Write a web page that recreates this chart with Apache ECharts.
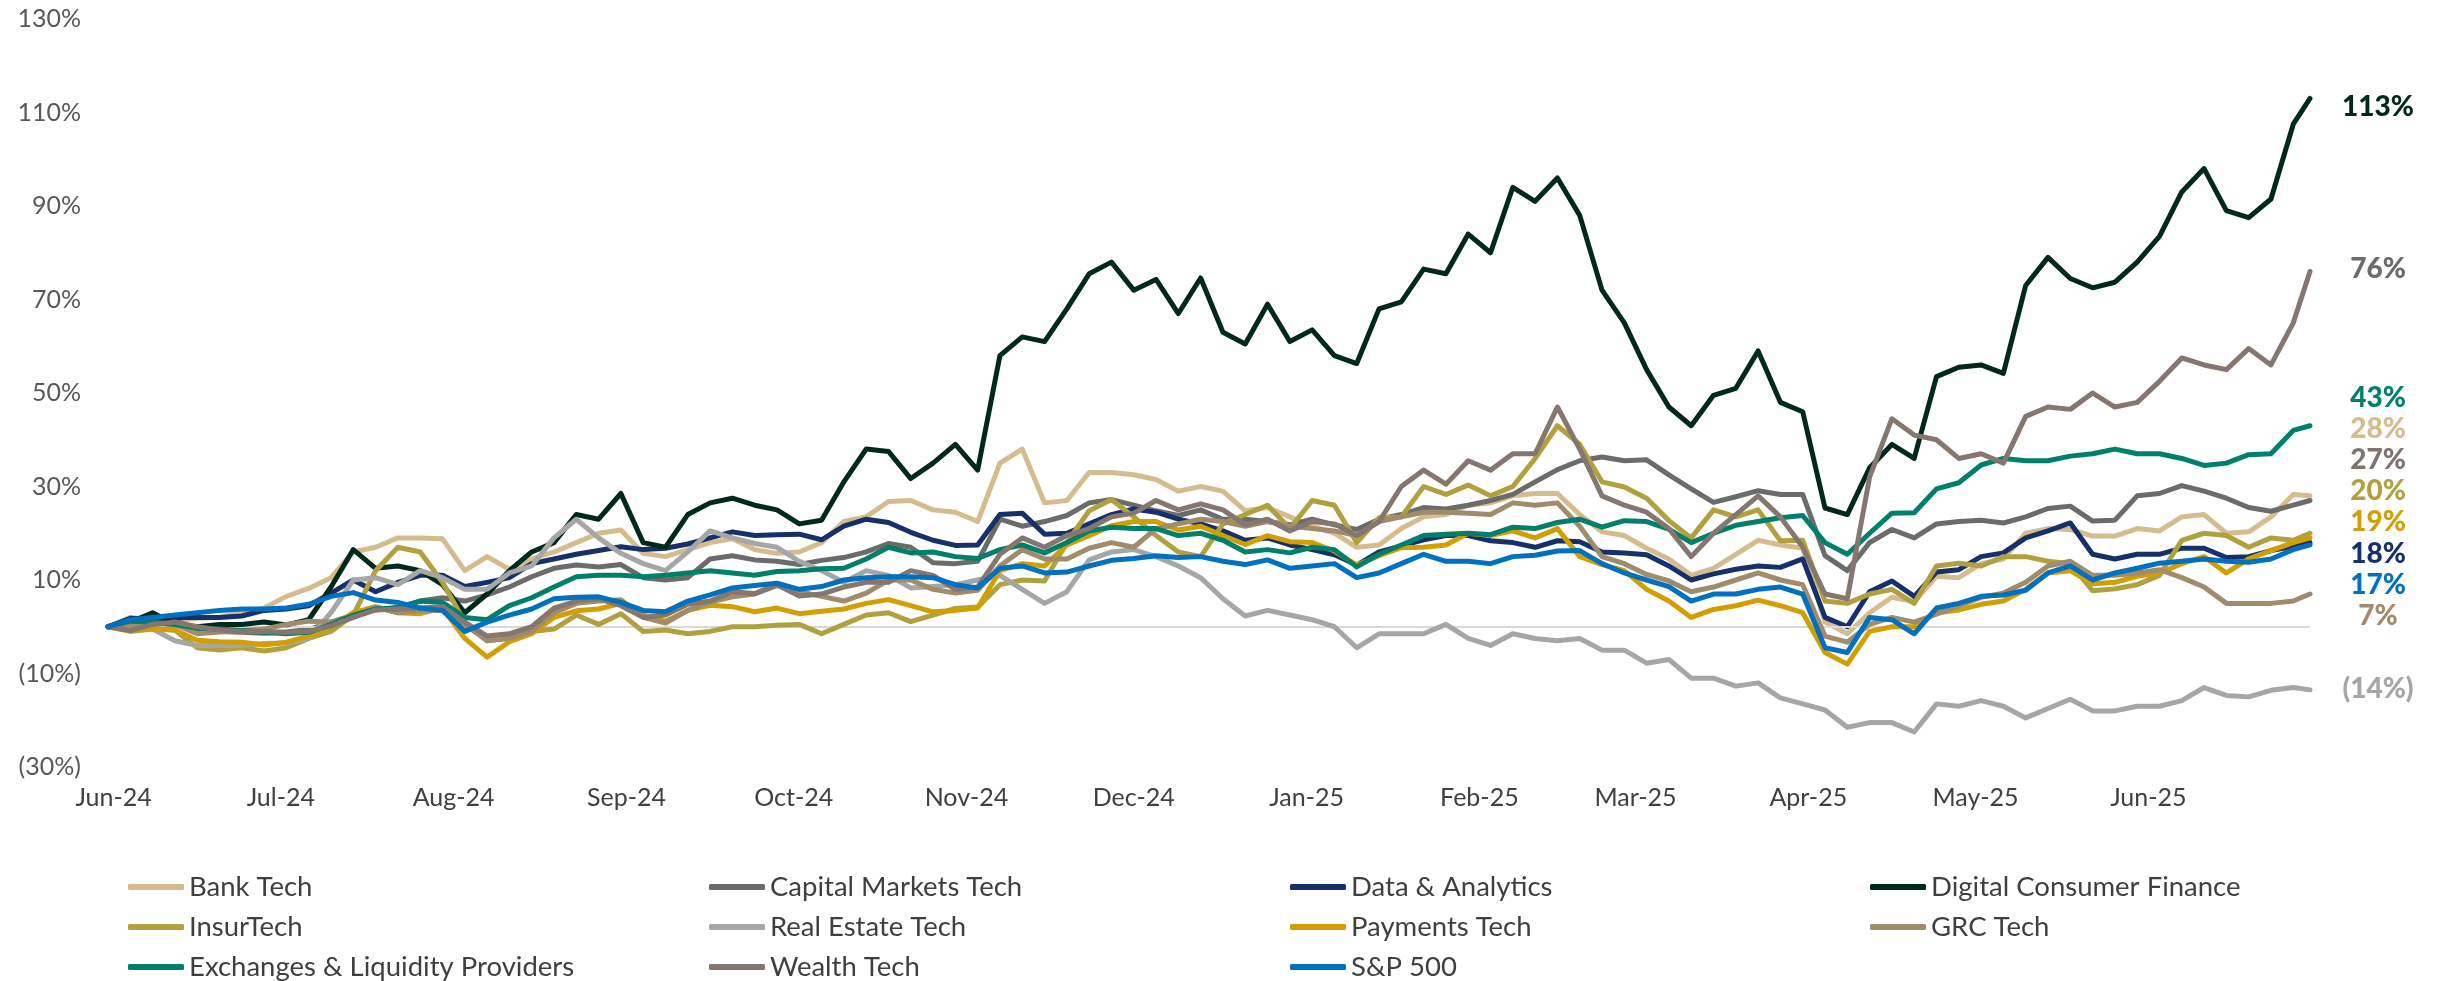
<!DOCTYPE html>
<html>
<head>
<meta charset="utf-8">
<script src="https://cdn.jsdelivr.net/npm/echarts@6/dist/echarts.min.js"></script>
<style>
html,body{margin:0;padding:0;background:#fff;}
#chart{width:2438px;height:981px;}
</style>
</head>
<body>
<div id="chart"></div>
<script>
// ---- DATA ----
// x = calendar days since 31-May-2024 (sampled every 4 days, last point 30-Jun-2025)
const dayOffsets = [];
for (let d = 0; d <= 392; d += 4) dayOffsets.push(d);
dayOffsets.push(395);

// month tick positions (days since 31-May-2024) and their labels
const monthTicks = [1, 31, 62, 93, 123, 154, 184, 215, 246, 274, 305, 335, 366];
const monthLabels = ['Jun-24','Jul-24','Aug-24','Sep-24','Oct-24','Nov-24','Dec-24','Jan-25','Feb-25','Mar-25','Apr-25','May-25','Jun-25'];

const seriesNames = ['Bank Tech','Capital Markets Tech','Data & Analytics','Digital Consumer Finance','InsurTech','Real Estate Tech','Payments Tech','GRC Tech','Exchanges & Liquidity Providers','Wealth Tech','S&P 500'];

const bankTech = [0,2,1.5,1.2,1.8,2,3,4,6.5,8.2, 10.5,16,17,19,19,18.8,12,15,12.3,14.5, 16,18,20,20.7,15.7,15,16.5,18,18.8,16.5, 15.7,16,18,22.5,23.5,26.8,27,25,24.5,22.5, 35,38,26.5,27,33,33,32.5,31.5,29,30, 29,24.8,25.5,23.5,21.5,20,17,17.5,21,23.5, 24,26,26.5,28,28.5,28.5,24,20.3,19.5,16.8, 14.5,11,12.5,15.5,18.5,17.5,16.8,1,-1.5,3, 6.3,5.4,10.8,10.5,13.5,14.5,20,21,20.8,19.4, 19.4,21,20.5,23.5,24,20,20.3,23.5,28.3,28];
const capitalMarketsTech = [0,1.2,1.3,1.4,-0.5,-1,-1.2,-1.4,-1.1,-0.6, 1,2.5,3.6,4.2,5.5,6.2,5.5,6.8,8.5,10.7, 12.5,13.2,12.8,13.3,10.5,10,10.5,14.5,15.2,14.3, 14,13.3,14.2,14.8,16,17.8,17,13.7,13.5,14, 23,21.5,22.5,23.8,26.5,27.2,26,24.8,23.8,25, 23,23,22.5,21.8,23,21.8,20.8,23,24,25.5, 25.2,26,27,28.3,31,33.6,35.5,36.3,35.5,35.7, 32.5,29.5,26.6,27.8,29.1,28.3,28.3,15.2,12,18, 20.8,19,22,22.5,22.8,22.2,23.5,25.3,25.8,22.6, 22.8,28,28.5,30.2,29,27.5,25.5,24.7,26,27];
const dataAnalytics = [0,1.8,1.5,2,2,2,2.3,3.5,3.8,4.5, 7.2,10,7.5,9.5,11,11,8.6,9.5,10.5,13.5, 14.5,15.5,16.3,17.1,16.5,16.8,17.7,19,20.3,19.5, 19.7,19.8,18.6,21.5,23,22.3,20.2,18.5,17.4,17.5, 24,24.3,19.8,20,22,24,25.2,24.5,23,22, 20.5,18.5,19,17.5,16.5,15.4,13.2,16,17.3,18.6, 19.5,19.5,18.4,18,17,18.4,18.2,16,15.8,15.4, 13,10,11.3,12.3,13,12.7,14.5,2,0,7.5, 9.8,6.5,11.7,12.2,15,15.8,19,20.5,22.2,15.5, 14.5,15.5,15.5,16.8,16.8,14.8,15,16.3,17.2,18];
const digitalConsumerFinance = [0,1,3,0.5,0,0.5,0.5,1,0.4,1.5, 8.5,16.5,12.5,13,12,9,3,7,12,16, 18,24,23,28.5,18,17,24,26.5,27.5,26, 25,22,22.8,31,38,37.5,31.7,35,39,33.5, 58,62,61,68,75.5,78,72,74.3,67,74.6, 63,60.5,69,61,63.5,58,56.3,68,69.5,76.5, 75.5,84,80,94,91,96,88,72,65,55, 47,43,49.5,51,59,48,46,25.4,24,34, 39,36,53.5,55.5,56,54.2,73,79,74.5,72.5, 73.7,78,83.5,93,98,89,87.5,91.5,107.5,113];
const insurTech = [0,-1,-0.5,-0.7,-4.5,-5,-4.5,-5.2,-4.5,-2.5, -1,2.5,12,17,16,9.5,1,-3,-2.3,-1, -0.5,2.5,0.5,2.8,-1,-0.7,-1.5,-1,0,0, 0.3,0.5,-1.5,0.5,2.5,3,1.1,2.5,3.9,4.2, 9,10,9.8,18,24.8,27.2,23.5,19.5,16,15, 22,24,26,21,27,26,18,23.3,23.5,30, 28.3,30.3,28,30,36,43,39,31,29.9,27.5, 22.7,19,25,23.5,25,18.4,18.5,5.5,5,7, 8,5,13,13.6,13,15,15,14,13.5,7.7, 8.1,9,11,18.5,20,19.5,17,19,18.5,20];
const realEstateTech = [0,0,-0.5,-3,-4,-4,-4,-3.6,-3.5,-2.5, 3,10,10.5,9,12,10.5,8,8,11.5,13, 19,23,19,15.7,13.5,12,16,20.5,19,17.8, 17,14,12,9.5,12,11,8.3,8.6,9,10, 11,8,5,7.5,14.3,16,16.5,15,13,10.5, 6,2.3,3.5,2.5,1.5,0,-4.5,-1.5,-1.5,-1.5, 0.5,-2.5,-4,-1.5,-2.5,-3,-2.5,-5,-5,-7.8, -7,-11,-11,-12.7,-12,-15.2,-16.5,-17.8,-21.5,-20.5, -20.5,-22.5,-16.5,-17,-15.8,-17,-19.5,-17.5,-15.5,-18, -18,-17,-17,-15.8,-13,-14.7,-15,-13.6,-13,-13.5];
const paymentsTech = [0,-0.3,-0.5,-0.7,-2.9,-3.2,-3.3,-3.9,-3.3,-2, 0,3,4.3,3,2.8,4,-2.5,-6.5,-3.2,-1.5, 2,3.4,3.8,5,2.5,1.2,3.5,4.6,4.3,3.2, 4,2.8,3.3,3.8,5,5.8,4.5,3.2,3.5,4, 12,13.5,13,17.5,19.5,21.6,22.5,22.5,20.7,21.5, 19.5,17.6,19.5,18.2,18,16.2,13.2,15.2,16.9,17, 17.5,20,19.5,20.5,19,21,15,13.3,12,8, 5.5,2,3.7,4.5,5.7,4.5,3,-5.5,-8,-1, 0,0,3,3.6,4.8,5.5,8,11.5,12,9.2, 9.5,10.8,11.5,13.5,15,11.5,14.5,16.3,18,19];
const grcTech = [0,0.5,0.7,0.5,-1.5,-1.1,-0.8,-0.5,0.5,1.2, 1,2,4.2,3,3.5,3.5,0.5,-3,-2.5,-1, 3,5,5.5,5.8,2,0.8,3.5,5.3,6.4,7, 8.8,7.5,6.5,5.5,7.2,10,10,8,7.2,7.8, 13,16.5,14.5,14.5,16.8,18,17,21,22,23, 22.5,21.5,22.5,21.5,21,20.5,19.5,22.5,23.5,24.5, 24.5,24.3,24,26.5,26,26.5,21.5,15,13.5,11.2, 9.8,7.5,8.5,10,11.5,10,9,-2,-3.3,0.5, 2,1,2.7,4.5,6.3,7.2,9.5,13,14,11, 11,11.5,12.2,10.5,8.5,5,5,5,5.5,7];
const exchangesLiquidity = [0,1.2,1,0.5,-0.3,-0.5,-0.8,-1.2,-1.5,-1.2, 0.5,2.5,3.8,4,5.5,5.2,2,1.5,4.5,6.2, 8.5,10.7,11,11,10.7,11,11.5,12,11.5,11, 11.8,12,12.4,12.5,14.5,17,15.8,16,15,14.6, 16.5,17.5,15.8,18,20.5,21.3,21,21,19.5,20, 18.5,16,16.5,15.8,17,16.5,12.8,15.5,17.5,19.5, 19.8,20,19.7,21.3,21,22.3,23,21.3,22.7,22.5, 20.9,18,20,21.7,22.5,23.3,23.8,18,15.5,20, 24.3,24.4,29.5,30.8,34.6,36,35.5,35.5,36.5,37, 38,37,37,36,34.5,35,36.8,37,42,43];
const wealthTech = [0,-0.8,0.5,1,0,-0.7,-1,-1,-1.2,-1, 0.2,2,3.6,3.8,4,4.3,1,-2,-1.5,0, 4,5.5,6,4.5,2,2.5,4.8,5.5,7.5,7.1, 9,6.6,7,8.5,9.5,9.5,12,11,8,8.5, 15.5,19,17,19.5,21,23.5,24.3,27,25,26.3, 25,21.8,23,20.5,22.5,22,19.5,22.5,30,33.5, 30.5,35.5,33.5,37,37,47,38,28,26,24.5, 21,15,20,24,28,23.5,17,7,6,32, 44.5,41,40,36,37,35,45,47,46.5,50, 47,48,52.5,57.5,56,55,59.5,56,65,76];
const sp500 = [0,1.5,2,2.5,3,3.5,3.8,3.8,4,4.8, 6.5,7.3,5.7,5.2,4,3.5,-1,1,2.5,3.8, 6,6.3,6.4,5.2,3.5,3.2,5.5,6.8,8.3,8.8, 9.3,8,8.6,10,10.5,10.7,10.7,10.5,9,8.3, 12.5,13,11.5,11.7,13,14.2,14.6,15.2,14.8,15, 14,13.3,14.3,12.5,13,13.5,10.5,11.5,13.5,15.5, 14,14,13.5,15,15.3,16.2,16.3,13.5,11.5,10, 8.6,5.5,7,7,8,8.5,7,-4.5,-5.5,2, 1.5,-1.5,4,5,6.5,6.8,7.8,11.5,13,10, 11.5,12.5,13.6,14,14.5,14,13.8,14.5,16.5,17.5];

const seriesValues = [bankTech, capitalMarketsTech, dataAnalytics, digitalConsumerFinance, insurTech, realEstateTech, paymentsTech, grcTech, exchangesLiquidity, wealthTech, sp500];

// end-of-period return labels
const endLabelText = ['28%','27%','18%','113%','20%','(14%)','19%','7%','43%','76%','17%'];

// y-axis tick range
const yMin = -30, yMax = 130, yStep = 20;

// ---- STYLE (kept separate from data) ----
const colors = ['#d5bc8e','#6b6b6b','#15306b','#00291e','#b0a13e','#a6a6a6','#d29e00','#a08b6b','#00806a','#85766f','#0070c0'];
const endLabelColors = ['#d5bc8e','#7f736e','#15306b','#00291e','#b0a13e','#a6a6a6','#d29e00','#a08b6b','#00806a','#6b6b6b','#0070c0'];
// vertical slot (in axis %) where each end label sits, spaced to avoid overlap
const endLabelSlot = [42.3, 35.7, 15.6, 111.2, 29, -13.3, 22.4, 2.4, 49, 76.6, 9];

const FONT = 'Lato, "Open Sans", sans-serif';
const lastX = dayOffsets[dayOffsets.length - 1];

const chart = echarts.init(document.getElementById('chart'), null, {renderer: 'canvas'});

const series = seriesNames.map((name, i) => {
  const s = {
    name: name,
    type: 'line',
    data: dayOffsets.map((d, k) => [d, seriesValues[i][k]]),
    showSymbol: false,
    symbol: 'none',
    smooth: false,
    lineStyle: {color: colors[i], width: 5, join: 'round', cap: 'round'},
    itemStyle: {color: colors[i]},
    emphasis: {disabled: true},
    z: 2 + i,
    markPoint: {
      symbol: 'circle',
      symbolSize: 1,
      silent: true,
      itemStyle: {color: 'rgba(0,0,0,0)'},
      label: {
        show: true,
        position: 'inside',
        offset: [68, 0],
        formatter: endLabelText[i],
        color: endLabelColors[i],
        fontFamily: FONT,
        fontWeight: 900,
        fontSize: 28,
        align: 'center',
        verticalAlign: 'middle'
      },
      data: [{coord: [lastX, endLabelSlot[i]]}]
    }
  };
  if (i === 0) {
    s.markLine = {
      silent: true,
      symbol: 'none',
      label: {show: false},
      lineStyle: {color: '#d9d9d9', width: 2, type: 'solid'},
      data: [{yAxis: 0}]
    };
  }
  return s;
});

// legend laid out as 4 columns x 3 rows (row-major order of series)
const colLefts = [128, 709, 1290, 1870];
const legends = colLefts.map((left, c) => ({
  orient: 'vertical',
  left: left,
  top: 872,
  width: 560,
  height: 140,
  data: seriesNames.filter((n, i) => i % 4 === c),
  icon: 'roundRect',
  itemWidth: 56,
  itemHeight: 6,
  itemGap: 10,
  padding: 0,
  selectedMode: false,
  textStyle: {color: '#3f3f3f', fontFamily: FONT, fontSize: 27.5, lineHeight: 30}
}));

chart.setOption({
  animation: false,
  backgroundColor: '#ffffff',
  grid: {left: 108, right: 128, top: 19, bottom: 214, containLabel: false},
  legend: legends,
  xAxis: {
    type: 'value',
    min: 0,
    max: lastX,
    splitLine: {show: false},
    axisLine: {show: false},
    axisTick: {show: false},
    axisLabel: {
      customValues: monthTicks,
      formatter: v => monthLabels[monthTicks.indexOf(v)] || '',
      color: '#404040',
      fontFamily: FONT,
      fontSize: 25,
      margin: 18,
      hideOverlap: false
    }
  },
  yAxis: {
    type: 'value',
    min: yMin,
    max: yMax,
    interval: yStep,
    splitLine: {show: false},
    axisLine: {show: false},
    axisTick: {show: false},
    axisLabel: {
      formatter: v => v < 0 ? '(' + Math.abs(v) + '%)' : v + '%',
      color: '#595959',
      fontFamily: FONT,
      fontSize: 25,
      margin: 27
    }
  },
  series: series
});
</script>
</body>
</html>
